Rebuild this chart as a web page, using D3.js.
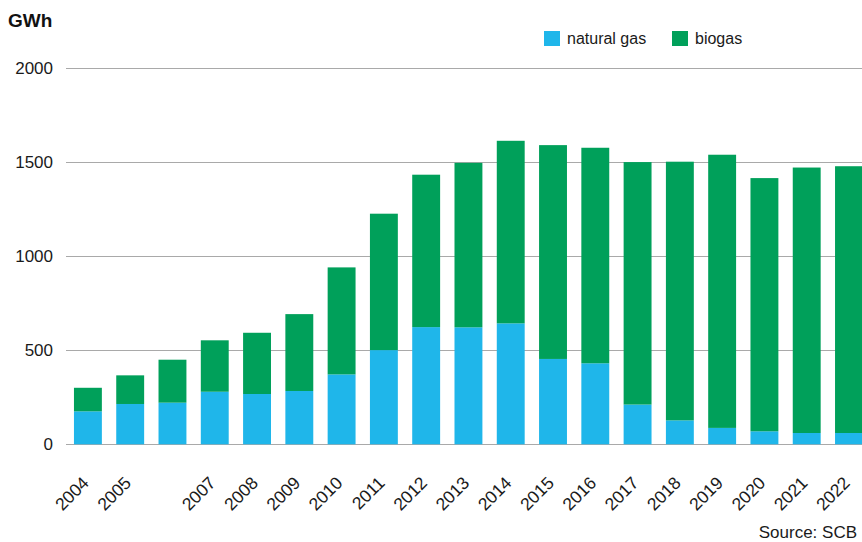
<!DOCTYPE html>
<html>
<head>
<meta charset="utf-8">
<script src="https://cdn.jsdelivr.net/npm/d3@7"></script>
<style>
  html, body { margin: 0; padding: 0; background: #fff; }
  svg { display: block; font-family: "Liberation Sans", Arial, Helvetica, sans-serif; }
</style>
</head>
<body>
<svg id="chart" width="862" height="542"></svg>
<script>
const years = ["2004","2005","2006","2007","2008","2009","2010","2011","2012","2013","2014","2015","2016","2017","2018","2019","2020","2021","2022"];
const tickLabels = ["2004","2005","","2007","2008","2009","2010","2011","2012","2013","2014","2015","2016","2017","2018","2019","2020","2021","2022"];
const naturalGas = [175, 214, 221, 279, 267, 283, 371, 500, 622, 621, 642, 453, 430, 211, 127, 87, 69, 60, 60];
const biogas =     [125, 152, 228, 273, 325, 408, 568, 724, 809, 873, 969, 1135, 1144, 1287, 1373, 1450, 1344, 1409, 1416];
const yTicks = [0, 500, 1000, 1500, 2000];
const seriesKeys = ["natural gas", "biogas"];
const colors = ["#1fb6ea", "#00a05a"];

const svg = d3.select("#chart");

const x = d3.scaleBand().domain(years).range([65.5, 871.4]).paddingInner(0.34).paddingOuter(0.2);
const y = d3.scaleLinear().domain([0, 2000]).range([444.3, 67.5]);

// gridlines
svg.append("g").selectAll("line").data(yTicks).join("line")
  .attr("x1", 66).attr("x2", 862)
  .attr("y1", d => Math.round(y(d)) + 0.5).attr("y2", d => Math.round(y(d)) + 0.5)
  .attr("stroke", "#a9a9a9").attr("stroke-width", 1);

// y tick labels
svg.append("g").selectAll("text").data(yTicks).join("text")
  .attr("x", 53).attr("y", d => y(d)).attr("dy", "0.36em")
  .attr("text-anchor", "end").attr("font-size", 17).attr("fill", "#1a1a1a")
  .text(d => d);

// stacked data
const table = years.map((yr, i) => ({ year: yr, "natural gas": naturalGas[i], "biogas": biogas[i] }));
const stacked = d3.stack().keys(seriesKeys)(table);

svg.append("g").selectAll("g").data(stacked).join("g")
  .attr("fill", (d, i) => colors[i])
  .selectAll("rect").data(d => d).join("rect")
  .attr("x", d => x(d.data.year))
  .attr("width", x.bandwidth())
  .attr("y", d => y(d[1]))
  .attr("height", d => y(d[0]) - y(d[1]));

// x labels
svg.append("g").selectAll("text").data(years).join("text")
  .attr("transform", d => `translate(${x(d) + x.bandwidth() / 2 + 2},484) rotate(-45)`)
  .attr("text-anchor", "end").attr("font-size", 17.5).attr("fill", "#1a1a1a")
  .text((d, i) => tickLabels[i]);

// unit label
svg.append("text").attr("x", 8).attr("y", 27).attr("font-size", 19).attr("font-weight", "bold")
  .attr("fill", "#111").text("GWh");

// legend
const legendX = [544, 672];
const lg = svg.append("g").selectAll("g").data(seriesKeys).join("g")
  .attr("transform", (d, i) => `translate(${legendX[i]},31)`);
lg.append("rect").attr("width", 16).attr("height", 15).attr("fill", (d, i) => colors[i]);
lg.append("text").attr("x", 23).attr("y", 13).attr("font-size", 16).attr("fill", "#1a1a1a").text(d => d);

// source
svg.append("text").attr("x", 857).attr("y", 538).attr("text-anchor", "end")
  .attr("font-size", 17).attr("fill", "#1a1a1a").text("Source: SCB");
</script>
</body>
</html>
